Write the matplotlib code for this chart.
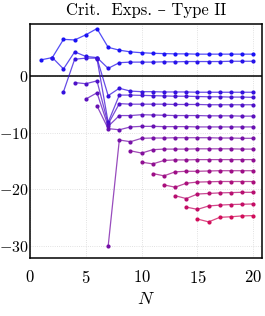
import numpy as np
import matplotlib
matplotlib.use("Agg")
import matplotlib.pyplot as plt
from matplotlib.colors import to_rgb

plt.rcParams['font.family'] = ['cmr10', 'DejaVu Serif']
plt.rcParams['mathtext.fontset'] = 'cm'
plt.rcParams['axes.formatter.use_mathtext'] = True
plt.rcParams['font.size'] = 12

# ---- data: critical exponents per series (ranked at N=20, top to bottom) ----
start_N = [1, 2, 3, 6, 4, 5, 6, 7, 9, 10, 11, 12, 13, 14, 15]

exp1 = [2.8, 3.2, 6.4, 6.3, 7.2, 8.3, 5.0, 4.5, 4.2, 4.05, 3.95, 3.9, 3.85, 3.85, 3.8, 3.8, 3.8, 3.8, 3.8, 3.8]
exp2 = [3.2, 1.2, 4.2, 3.4, 3.2, 1.3, 2.3, 2.4, 2.4, 2.4, 2.45, 2.45, 2.5, 2.5, 2.5, 2.5, 2.55, 2.55, 2.55]
exp3 = [-2.8, 2.9, 3.1, 3.1, -3.5, -2.2, -2.7, -2.8, -2.8, -2.85, -2.85, -2.85, -2.9, -2.9, -2.9, -2.9, -2.9, -2.9]
exp4 = [3.0, -8.2, -3.4, -3.4, -3.45, -3.5, -3.55, -3.6, -3.6, -3.65, -3.7, -3.7, -3.75, -3.75, -3.8]
exp5 = [-1.2, -1.4, -0.9, -8.5, -4.9, -5.0, -5.0, -5.0, -5.0, -5.05, -5.05, -5.05, -5.1, -5.1, -5.1, -5.1, -5.1]
exp6 = [-4.1, -3.0, -8.9, -7.0, -7.0, -6.85, -6.9, -6.95, -7.0, -7.0, -7.0, -7.05, -7.05, -7.05, -7.1, -7.1]
exp7 = [-5.3, -9.3, -9.5, -9.0, -8.9, -8.9, -8.95, -8.95, -8.95, -9.0, -9.0, -9.0, -9.0, -9.0, -9.0]
exp8 = [-30.0, -11.3, -11.6, -11.0, -10.95, -10.95, -10.9, -10.9, -10.9, -10.9, -10.95, -10.95, -11.0, -11.0]
exp9 = [-13.2, -13.6, -13.0, -12.9, -12.9, -12.9, -12.85, -12.85, -12.85, -12.85, -12.9, -12.9]
exp10 = [-15.2, -15.5, -14.9, -14.8, -14.8, -14.75, -14.75, -14.75, -14.75, -14.75, -14.75]
exp11 = [-17.2, -17.6, -16.9, -16.8, -16.8, -16.75, -16.7, -16.7, -16.7, -16.7]
exp12 = [-19.2, -19.6, -18.9, -18.7, -18.65, -18.6, -18.6, -18.6, -18.6]
exp13 = [-21.1, -21.6, -20.8, -20.7, -20.6, -20.55, -20.5, -20.5]
exp14 = [-23.1, -23.5, -22.9, -22.75, -22.65, -22.6, -22.55]
exp15 = [-25.2, -25.7, -24.9, -24.8, -24.65, -24.6]

series = [exp1, exp2, exp3, exp4, exp5, exp6, exp7, exp8,
          exp9, exp10, exp11, exp12, exp13, exp14, exp15]

x_ticks = [0, 5, 10, 15, 20]
y_ticks = [-30, -20, -10, 0]

# ---- figure ----
fig = plt.figure(figsize=(2.65, 3.16), dpi=100)
ax = fig.add_axes([30/265, 1-257.7/316, 232/265, 233.4/316])

c_top = np.array(to_rgb('#1a12f4'))
c_bot = np.array(to_rgb('#d10d5a'))
n = len(series)
for k, (s0, vals) in enumerate(zip(start_N, series)):
    t = k / (n - 1)
    col = (1 - t) * c_top + t * c_bot
    xs = np.arange(s0, s0 + len(vals))
    ax.plot(xs, vals, '-', color=col, lw=0.9, alpha=0.75, zorder=3)
    ax.plot(xs, vals, 'o', color=col, ms=3.0, mew=0, zorder=4)

ax.axhline(0, color='black', lw=1.1, zorder=2)

ax.set_xlim(0, 20.78)
ax.set_ylim(-32.0, 9.05)
ax.set_xticks(x_ticks)
ax.set_yticks(y_ticks)
ax.grid(True, color='#d8d8d8', ls=':', lw=0.6)
ax.set_axisbelow(True)
ax.tick_params(axis='both', length=0, labelsize=12)
ax.tick_params(axis='x', pad=8)
ax.tick_params(axis='y', pad=1, labelsize=11.5)
for sp in ax.spines.values():
    sp.set_linewidth(1.1)

ax.set_xlabel(r'$N$', fontsize=13, labelpad=4)
ax.set_title('Crit.  Exps. – Type II', fontsize=12, pad=7)

fig.savefig('out.png', dpi=100)
